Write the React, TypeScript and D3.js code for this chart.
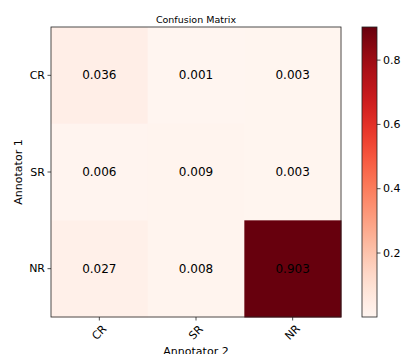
import React from 'react';
import * as d3 from 'd3';

const rowLabels = ['CR', 'SR', 'NR'];
const colLabels = ['CR', 'SR', 'NR'];
const matrix = [
  [0.036, 0.001, 0.003],
  [0.006, 0.009, 0.003],
  [0.027, 0.008, 0.903],
];
const colorbarTicks = [0.2, 0.4, 0.6, 0.8];

const App = () => {
  const ref = React.useRef<SVGSVGElement>(null);

  React.useEffect(() => {
    const svg = d3.select(ref.current);
    svg.selectAll('*').remove();
    const font = 'DejaVu Sans, sans-serif';
    const left = 51, top = 27, size = 290;

    const all = matrix.flat();
    const vmin = d3.min(all)!, vmax = d3.max(all)!;
    const color = d3.scaleSequential(d3.interpolateReds).domain([vmin, vmax]);

    const x = d3.scaleBand().domain(colLabels).range([left, left + size]);
    const y = d3.scaleBand().domain(rowLabels).range([top, top + size]);

    const cells = matrix.flatMap((row, i) => row.map((v, j) => ({ r: rowLabels[i], c: colLabels[j], v })));

    svg.append('g').selectAll('rect').data(cells).enter().append('rect')
      .attr('x', d => x(d.c)!)
      .attr('y', d => y(d.r)!)
      .attr('width', x.bandwidth() + 0.5)
      .attr('height', y.bandwidth() + 0.5)
      .attr('fill', d => color(d.v));

    svg.append('g').selectAll('text').data(cells).enter().append('text')
      .attr('x', d => x(d.c)! + x.bandwidth() / 2)
      .attr('y', d => y(d.r)! + y.bandwidth() / 2)
      .attr('text-anchor', 'middle')
      .attr('dominant-baseline', 'central')
      .attr('font-family', font)
      .attr('font-size', 12)
      .attr('fill', 'black')
      .text(d => d.v.toFixed(3));

    svg.append('rect')
      .attr('x', left).attr('y', top).attr('width', size).attr('height', size)
      .attr('fill', 'none').attr('stroke', '#222').attr('stroke-width', 0.8);

    // y axis
    const yAxis = svg.append('g');
    rowLabels.forEach(r => {
      const cy = y(r)! + y.bandwidth() / 2;
      yAxis.append('line').attr('x1', left - 3.5).attr('x2', left).attr('y1', cy).attr('y2', cy)
        .attr('stroke', '#222').attr('stroke-width', 0.8);
      yAxis.append('text').attr('x', left - 6).attr('y', cy)
        .attr('text-anchor', 'end').attr('dominant-baseline', 'central')
        .attr('font-family', font).attr('font-size', 11).text(r);
    });

    // x axis
    const xAxis = svg.append('g');
    colLabels.forEach(c => {
      const cx = x(c)! + x.bandwidth() / 2;
      xAxis.append('line').attr('x1', cx).attr('x2', cx).attr('y1', top + size).attr('y2', top + size + 3.5)
        .attr('stroke', '#222').attr('stroke-width', 0.8);
      xAxis.append('text')
        .attr('transform', `translate(${cx},${top + size + 15.5}) rotate(-45)`)
        .attr('text-anchor', 'middle').attr('dominant-baseline', 'central')
        .attr('font-family', font).attr('font-size', 11).text(c);
    });

    svg.append('text').attr('x', left + size / 2).attr('y', 355)
      .attr('text-anchor', 'middle').attr('font-family', font).attr('font-size', 11)
      .text('Annotator 2');
    svg.append('text')
      .attr('transform', `translate(22,${top + size / 2}) rotate(-90)`)
      .attr('text-anchor', 'middle').attr('font-family', font).attr('font-size', 11)
      .text('Annotator 1');
    svg.append('text').attr('x', left + size / 2).attr('y', 22.5)
      .attr('text-anchor', 'middle').attr('font-family', font).attr('font-size', 9.5)
      .text('Confusion Matrix');

    // colorbar
    const cbX = 362, cbW = 15;
    const cbScale = d3.scaleLinear().domain([vmin, vmax]).range([top + size, top]);
    const defs = svg.append('defs');
    const grad = defs.append('linearGradient').attr('id', 'cbgrad')
      .attr('x1', 0).attr('y1', 1).attr('x2', 0).attr('y2', 0);
    d3.range(0, 1.0001, 0.05).forEach(t => {
      grad.append('stop').attr('offset', t).attr('stop-color', d3.interpolateReds(t));
    });
    svg.append('rect').attr('x', cbX).attr('y', top).attr('width', cbW).attr('height', size)
      .attr('fill', 'url(#cbgrad)').attr('stroke', '#222').attr('stroke-width', 0.8);
    const cbAxis = svg.append('g');
    colorbarTicks.forEach(t => {
      const ty = cbScale(t);
      cbAxis.append('line').attr('x1', cbX + cbW).attr('x2', cbX + cbW + 3.5).attr('y1', ty).attr('y2', ty)
        .attr('stroke', '#222').attr('stroke-width', 0.8);
      cbAxis.append('text').attr('x', cbX + cbW + 6).attr('y', ty)
        .attr('dominant-baseline', 'central').attr('font-family', font).attr('font-size', 11)
        .text(d3.format('.1f')(t));
    });
  }, []);

  return <svg ref={ref} width={402} height={354} style={{ position: 'absolute', left: 0, top: 0 }} />;
};

export default App;
